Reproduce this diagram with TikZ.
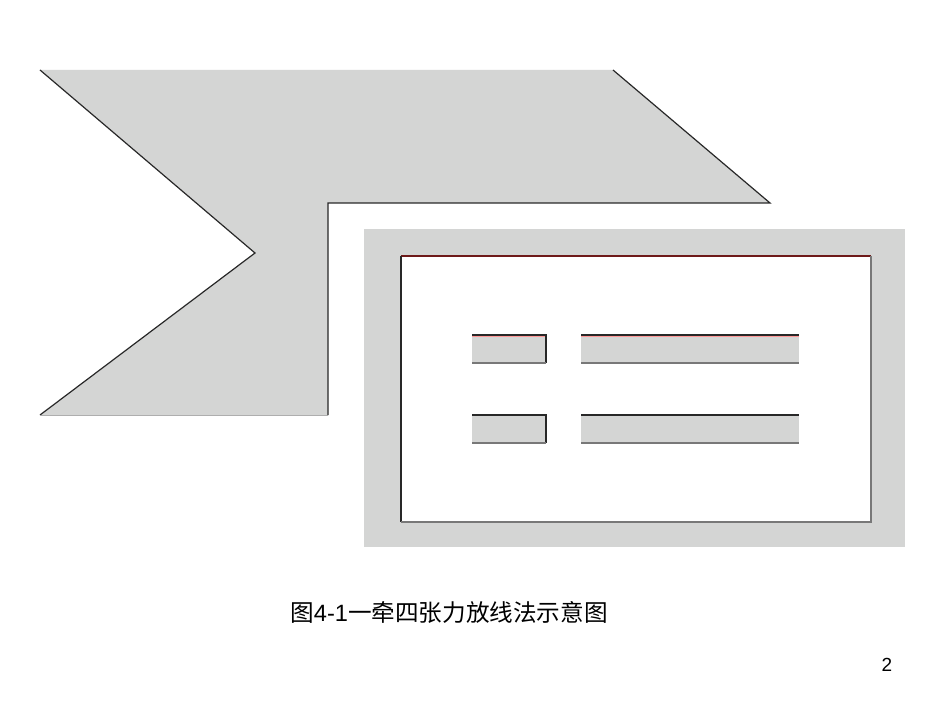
\documentclass[tikz,border=0pt]{standalone}
\usepackage{fontspec}
\setmainfont{Liberation Sans}
\newfontfamily\cjk{Noto Sans CJK SC}
\definecolor{panel}{RGB}{212,213,212}
\definecolor{edge}{RGB}{40,40,40}
\definecolor{redge}{RGB}{110,25,25}
\definecolor{lowedge}{RGB}{120,120,120}
\tikzset{
  outline/.style={draw=edge, line width=1.2pt},
  softline/.style={draw=lowedge, line width=1.2pt},
  redline/.style={draw=redge, line width=1.2pt},
  bar/.style={fill=panel},
  caption/.style={font=\fontsize{23.6}{26}\selectfont, inner sep=0pt, anchor=center},
  pagenum/.style={font=\fontsize{19}{22}\selectfont, inner sep=0pt, anchor=center}
}
\begin{document}
\begin{tikzpicture}[x=1pt,y=-1pt]
\useasboundingbox (0,0) rectangle (950,714);
\fill[white] (0,0) rectangle (950,714);
% arrow-shaped panel
\fill[panel] (40,70) -- (613,70) -- (770,203) -- (328,203) -- (328,415) -- (40,415) -- (255,253) -- cycle;
\draw[outline, line join=miter] (40,70) -- (255,253) -- (40,415);
\draw[outline, line join=miter] (613,70) -- (770,203) -- (328,203) -- (328,415);
\draw[draw=lowedge!60, line width=1pt] (328,415) -- (40,415);
% screen frame
\fill[panel] (364,229) rectangle (905,547);
\fill[white] (401,256) rectangle (871,522);
\draw[redline] (401,256) -- (871,256);
\draw[outline] (401,256) -- (401,522);
\draw[softline] (401,522) -- (871,522) -- (871,256);
% bars
\foreach \y in {335, 415}{
  \fill[bar] (472,\y) rectangle (546,\y+28);
  \fill[bar] (581,\y) rectangle (799,\y+28);
  \draw[outline] (472,\y) -- (546,\y) -- (546,\y+28);
  \draw[softline] (472,\y+28) -- (546,\y+28);
  \draw[outline] (581,\y) -- (799,\y);
  \draw[softline] (581,\y+28) -- (799,\y+28);
}
\draw[draw=red!40, line width=0.6pt] (472,336.2) -- (545,336.2);
\draw[draw=red!40, line width=0.6pt] (581,336.2) -- (799,336.2);
% caption and page number
\node[caption] (cap) at (449,612) {{\cjk 图}4-1{\cjk 一牵四张力放线法示意图}};
\node[pagenum] (pg) at (887,665) {2};
\end{tikzpicture}
\end{document}
